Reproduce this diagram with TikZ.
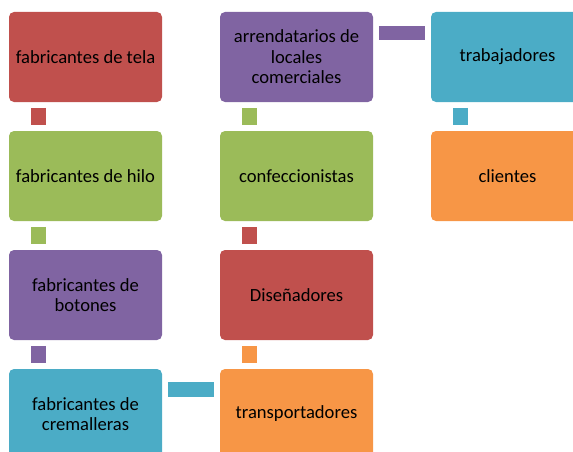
\documentclass[tikz,border=0pt]{standalone}
\usepackage{fontspec}
\setmainfont{Carlito}
\definecolor{cred}{HTML}{C0504D}
\definecolor{cgreen}{HTML}{9BBB59}
\definecolor{cpurple}{HTML}{8064A2}
\definecolor{cteal}{HTML}{4BACC6}
\definecolor{corange}{HTML}{F79646}
\tikzset{
  box/.style={rectangle, rounded corners=5pt, minimum width=153pt, minimum height=90pt,
    inner sep=0pt, align=center, text=black,
    font=\fontsize{18.6}{20.5}\selectfont},
  conn/.style={line width=14.5pt, line cap=butt, shorten >=5.6pt, shorten <=5.6pt}
}
\begin{document}
\begin{tikzpicture}[x=1pt,y=-1pt]
\useasboundingbox (0,0) rectangle (573,452);
\node[box, fill=cred]    (a1) at (85.5,57)  {fabricantes de tela};
\node[box, fill=cgreen]  (a2) at (85.5,176) {fabricantes de hilo};
\node[box, fill=cpurple] (a3) at (85.5,295) {fabricantes de\\botones};
\node[box, fill=cteal]   (a4) at (85.5,414) {fabricantes de\\cremalleras};
\node[box, fill=corange] (b4) at (296.5,414) {transportadores};
\node[box, fill=cred]    (b3) at (296.5,295) {Diseñadores};
\node[box, fill=cgreen]  (b2) at (296.5,176) {confeccionistas};
\node[box, fill=cpurple] (b1) at (296.5,57)  {arrendatarios de\\locales\\comerciales};
\node[box, fill=cteal]   (c1) at (507.5,57)  {trabajadores};
\node[box, fill=corange] (c2) at (507.5,176) {clientes};
\draw[conn, cred]    ([xshift=29.5pt]a1.south west) -- ([xshift=29.5pt]a2.north west);
\draw[conn, cgreen]  ([xshift=29.5pt]a2.south west) -- ([xshift=29.5pt]a3.north west);
\draw[conn, cpurple] ([xshift=29.5pt]a3.south west) -- ([xshift=29.5pt]a4.north west);
\draw[conn, cteal]   ([yshift=-20.5pt]a4.north east) -- ([yshift=-20.5pt]b4.north west);
\draw[conn, corange] ([xshift=29.5pt]b4.north west) -- ([xshift=29.5pt]b3.south west);
\draw[conn, cred]    ([xshift=29.5pt]b3.north west) -- ([xshift=29.5pt]b2.south west);
\draw[conn, cgreen]  ([xshift=29.5pt]b2.north west) -- ([xshift=29.5pt]b1.south west);
\draw[conn, cpurple] ([yshift=-21pt]b1.north east) -- ([yshift=-21pt]c1.north west);
\draw[conn, cteal]   ([xshift=29.5pt]c1.south west) -- ([xshift=29.5pt]c2.north west);
\end{tikzpicture}
\end{document}
